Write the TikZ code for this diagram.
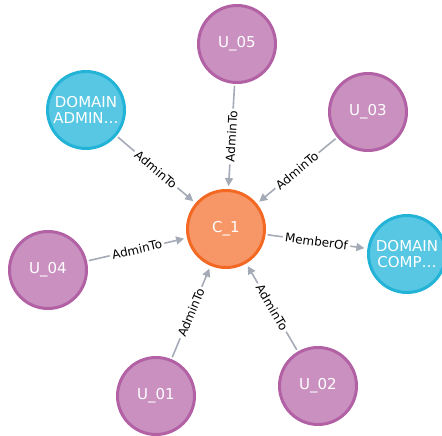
\documentclass[tikz,border=0pt]{standalone}
\usepackage{fontspec}
\setmainfont{DejaVu Sans}
\usetikzlibrary{arrows.meta}
\definecolor{userfill}{HTML}{C990C0}
\definecolor{userline}{HTML}{B261A5}
\definecolor{groupfill}{HTML}{57C7E3}
\definecolor{groupline}{HTML}{23B3D7}
\definecolor{compfill}{HTML}{F79767}
\definecolor{compline}{HTML}{F36924}
\definecolor{relline}{HTML}{A5ABB6}
\begin{document}
\begin{tikzpicture}[x=1pt, y=-1pt,
    entity/.style={circle, line width=3pt, minimum size=77pt, inner sep=0pt,
      text=white, align=center, font=\fontsize{15}{15.5}\selectfont},
    user/.style={entity, draw=userline, fill=userfill},
    group/.style={entity, draw=groupline, fill=groupfill},
    comp/.style={entity, draw=compline, fill=compfill},
    rel/.style={draw=relline, line width=1.6pt, shorten <=2pt, shorten >=3pt,
      -{Triangle[length=8pt, width=8pt]}},
    lbl/.style={sloped, fill=white, inner sep=2.5pt, text=black,
      font=\fontsize{12}{12}\selectfont}]
    \useasboundingbox (0, 0) rectangle (442, 436);
    \node[comp]  (c1)     at (226, 229) {C\_1};
    \node[user]  (u05)    at (237,  44) {U\_05};
    \node[user]  (u03)    at (368, 112) {U\_03};
    \node[user]  (u04)    at ( 48, 270) {U\_04};
    \node[user]  (u01)    at (156, 396) {U\_01};
    \node[user]  (u02)    at (318, 386) {U\_02};
    \node[group] (dadmin) at ( 86, 110) {DOMAIN\\ADMIN…};
    \node[group] (dcomp)  at (407, 254) {DOMAIN\\COMP…};
    \draw[rel] (dadmin) -- node[lbl] {AdminTo} (c1);
    \draw[rel] (u05)    -- node[lbl] {AdminTo} (c1);
    \draw[rel] (u03)    -- node[lbl] {AdminTo} (c1);
    \draw[rel] (u04)    -- node[lbl] {AdminTo} (c1);
    \draw[rel] (u01)    -- node[lbl] {AdminTo} (c1);
    \draw[rel] (u02)    -- node[lbl] {AdminTo} (c1);
    \draw[rel] (c1)     -- node[lbl] {MemberOf} (dcomp);
\end{tikzpicture}
\end{document}
